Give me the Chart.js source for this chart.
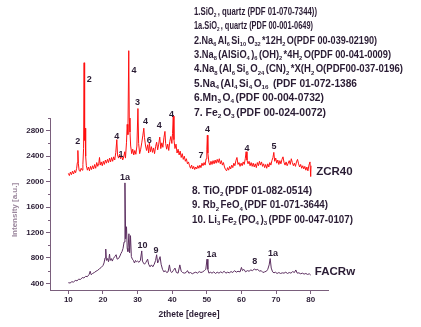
<!DOCTYPE html>
<html>
<head>
<meta charset="utf-8">
<script src="https://cdn.jsdelivr.net/npm/chart.js@4.4.0/dist/chart.umd.min.js"></script>
<style>
html, body { margin: 0; padding: 0; background: #fff; }
</style>
</head>
<body>
<canvas id="xrd-chart" width="421" height="327"></canvas>
<script>
// ZCR40 pattern (red)
var redTheta = [
    10.0, 10.3, 10.6, 10.9, 11.2, 11.5, 11.8, 12.1, 12.4, 12.6,
    12.75, 12.9, 13.1, 13.4, 13.7, 14.0, 14.2, 14.4, 14.55, 14.7,
    14.85, 15.0, 15.2, 15.5, 15.8, 16.1, 16.4, 16.7, 17.0, 17.3,
    17.6, 17.9, 18.2, 18.5, 18.8, 19.0, 19.2, 19.5, 19.8, 20.1,
    20.4, 20.7, 21.0, 21.3, 21.6, 21.9, 22.2, 22.5, 22.8, 23.1,
    23.4, 23.7, 24.0, 24.2, 24.5, 24.8, 25.1, 25.4, 25.7, 26.0,
    26.3, 26.5, 26.8, 27.0, 27.2, 27.45, 27.6, 27.8, 28.0, 28.3,
    28.6, 28.9, 29.2, 29.5, 29.8, 30.1, 30.3, 30.6, 30.9, 31.2,
    31.5, 31.8, 32.0, 32.3, 32.6, 32.9, 33.2, 33.4, 33.7, 34.0,
    34.3, 34.6, 34.9, 35.2, 35.5, 35.8, 36.1, 36.4, 36.7, 37.0,
    37.3, 37.6, 37.9, 38.1, 38.4, 38.7, 39.0, 39.3, 39.6, 39.9,
    40.1, 40.3, 40.5, 40.8, 41.1, 41.4, 41.7, 42.0, 42.3, 42.6,
    42.9, 43.2, 43.5, 43.8, 44.1, 44.4, 44.7, 45.0, 45.3, 45.6,
    45.9, 46.2, 46.5, 46.8, 47.1, 47.4, 47.7, 48.0, 48.3, 48.6,
    48.9, 49.2, 49.5, 49.8, 50.0, 50.15, 50.3, 50.6, 50.9, 51.2,
    51.5, 51.8, 52.1, 52.4, 52.7, 53.0, 53.3, 53.6, 53.9, 54.2,
    54.5, 54.8, 55.1, 55.4, 55.7, 56.0, 56.3, 56.6, 56.9, 57.2,
    57.5, 57.8, 58.1, 58.4, 58.7, 59.0, 59.3, 59.6, 59.9, 60.2,
    60.5, 60.8, 61.1, 61.35, 61.6, 61.9, 62.2, 62.5, 62.8, 63.1,
    63.4, 63.7, 64.0, 64.3, 64.6, 64.9, 65.2, 65.5, 65.8, 66.1,
    66.4, 66.7, 67.0, 67.3, 67.6, 67.9, 68.2, 68.5, 68.8, 69.1,
    69.35, 69.6, 69.9, 70.2, 70.5, 70.8, 71.1, 71.4, 71.7, 72.0,
    72.3, 72.6, 72.9, 73.2, 73.5, 73.8, 74.1, 74.4, 74.7, 75.0,
    75.3, 75.6, 75.9, 76.2, 76.5, 76.8, 77.1, 77.4, 77.7, 78.0,
    78.3, 78.6, 78.9, 79.2, 79.5, 79.8, 80.0, 80.1
];
var redCounts = [
    2130, 2095, 2150, 2110, 2165, 2120, 2175, 2140, 2210, 2300,
    2490, 2280, 2180, 2160, 2210, 2180, 2270, 2520, 3870, 2650,
    2840, 2400, 2250, 2180, 2230, 2170, 2240, 2190, 2250, 2200,
    2270, 2210, 2300, 2240, 2290, 2380, 2260, 2310, 2250, 2320,
    2270, 2340, 2290, 2350, 2300, 2370, 2310, 2380, 2320, 2390,
    2340, 2460, 2660, 2420, 2370, 2430, 2360, 2410, 2340, 2390,
    2470, 2370, 2620, 2900, 2740, 4060, 3000, 2780, 2560, 2440,
    2510, 2420, 2490, 2430, 2560, 3150, 2600, 2440, 2510, 2610,
    2720, 2840, 2690, 2560, 2490, 2580, 2450, 2610, 2470, 2550,
    2460, 2530, 2440, 2550, 2620, 2500, 2590, 2700, 2520, 2610,
    2540, 2690, 2790, 2600, 2510, 2590, 2490, 2630, 2710, 2600,
    2760, 3030, 2660, 2520, 2590, 2450, 2510, 2420, 2480, 2380,
    2440, 2350, 2400, 2320, 2360, 2280, 2310, 2250, 2210, 2260,
    2200, 2240, 2190, 2230, 2200, 2250, 2210, 2260, 2220, 2290,
    2250, 2300, 2260, 2360, 2500, 2730, 2450, 2300, 2260, 2320,
    2270, 2330, 2280, 2340, 2290, 2350, 2300, 2360, 2280, 2330,
    2260, 2300, 2230, 2190, 2170, 2220, 2180, 2240, 2200, 2260,
    2220, 2290, 2250, 2330, 2380, 2270, 2300, 2240, 2290, 2250,
    2310, 2270, 2360, 2470, 2340, 2280, 2320, 2250, 2300, 2240,
    2290, 2230, 2280, 2220, 2300, 2250, 2320, 2260, 2310, 2240,
    2280, 2220, 2270, 2210, 2280, 2230, 2300, 2260, 2330, 2380,
    2460, 2320, 2370, 2290, 2340, 2270, 2330, 2280, 2350, 2390,
    2300, 2260, 2310, 2250, 2290, 2330, 2270, 2360, 2300, 2250,
    2290, 2240, 2310, 2350, 2280, 2230, 2270, 2210, 2250, 2200,
    2240, 2180, 2230, 2170, 2260, 2310, 2080, 2250
];

// FACRw pattern (purple)
var purpleTheta = [
    10.0, 10.5, 11.0, 11.5, 12.0, 12.5, 13.0, 13.5, 14.0, 14.5,
    15.0, 15.5, 16.0, 16.3, 16.6, 17.0, 17.5, 18.0, 18.5, 19.0,
    19.5, 20.0, 20.3, 20.6, 20.8, 21.0, 21.3, 21.6, 21.9, 22.1,
    22.4, 22.7, 23.0, 23.4, 23.8, 24.1, 24.5, 24.9, 25.2, 25.5,
    25.8, 26.1, 26.35, 26.55, 26.8, 27.0, 27.2, 27.5, 27.7, 27.95,
    28.2, 28.5, 28.8, 29.1, 29.4, 29.7, 30.0, 30.4, 30.8, 31.2,
    31.4, 31.7, 32.0, 32.4, 32.9, 33.2, 33.6, 34.0, 34.4, 34.8,
    35.2, 35.5, 35.8, 36.1, 36.5, 36.8, 37.2, 37.6, 38.0, 38.4,
    38.8, 39.2, 39.5, 39.9, 40.3, 40.8, 41.2, 41.7, 42.2, 42.6,
    43.0, 43.5, 44.0, 44.4, 44.8, 45.3, 45.8, 46.3, 46.8, 47.3,
    47.8, 48.3, 48.8, 49.3, 49.7, 50.05, 50.3, 50.6, 51.0, 51.5,
    52.0, 52.5, 53.0, 53.5, 54.0, 54.5, 55.0, 55.5, 56.0, 56.5,
    57.0, 57.5, 58.0, 58.5, 59.0, 59.6, 60.0, 60.3, 60.7, 61.2,
    61.7, 62.2, 62.7, 63.2, 63.7, 64.2, 64.7, 65.2, 65.7, 66.2,
    66.7, 67.2, 67.6, 68.0, 68.3, 68.6, 69.0, 69.4, 69.8, 70.3,
    70.8, 71.3, 71.8, 72.3, 72.8, 73.3, 73.8, 74.3, 74.8, 75.3,
    75.7, 76.1, 76.6, 77.1, 77.6, 78.1, 78.6, 79.1, 79.6, 80.0
];
var purpleCounts = [
    410, 405, 425, 420, 445, 440, 465, 460, 490, 485,
    510, 505, 540, 590, 535, 555, 570, 590, 605, 630,
    650, 680, 720, 800, 940, 760, 790, 740, 860, 760,
    790, 750, 790, 820, 850, 780, 790, 830, 870, 900,
    950, 1050, 1980, 1100, 1290, 950, 900, 1180, 880, 1150,
    820, 780, 760, 720, 760, 740, 750, 730, 760, 910,
    750, 720, 700, 730, 780, 700, 660, 690, 660, 700,
    760, 850, 720, 760, 820, 700, 620, 580, 600, 570,
    580, 690, 590, 570, 600, 640, 570, 560, 690, 590,
    570, 560, 570, 600, 560, 570, 550, 565, 575, 560,
    585, 570, 580, 600, 620, 780, 620, 560, 575, 560,
    580, 555, 575, 560, 580, 565, 590, 560, 575, 565,
    585, 570, 600, 575, 590, 580, 650, 600, 620, 580,
    600, 590, 610, 600, 625, 610, 620, 590, 600, 570,
    580, 590, 620, 690, 790, 640, 580, 565, 575, 555,
    570, 555, 565, 560, 575, 555, 570, 560, 585, 570,
    610, 560, 565, 550, 560, 545, 555, 540, 550, 530
];

var xTicks = [10, 20, 30, 40, 50, 60, 70, 80];
var yTicks = [400, 800, 1200, 1600, 2000, 2400, 2800];
var yMinorTicks = [600, 1000, 1400, 1800, 2200, 2600, 3000];
var yAxisTop = 3000;

// peak labels: [2theta, intensity, text]
var peakLabels = [
    [12.7, 2626, '2'], [16.05, 3612, '2'], [29.0, 3743, '4'], [23.95, 2705, '4'],
    [25.2, 2433, '1'], [30.0, 3240, '3'], [32.3, 2941, '4'], [33.35, 2653, '6'],
    [36.25, 2889, '4'], [39.8, 3062, '4'], [48.3, 2417, '7'], [50.2, 2821, '4'],
    [61.6, 2523, '4'], [69.4, 2559, '5'],
    [26.35, 2067, '1a'], [31.45, 1002, '10'], [35.3, 924, '9'], [51.35, 856, '1a'],
    [63.85, 740, '8'], [69.1, 872, '1a']
];

var phasesTop = [
    '1.SiO_{2}, quartz (PDF 01-070-7344))',
    '1a.SiO_{2}, quartz (PDF 00-001-0649)',
    '2.Na_{6}Al_{6}Si_{10}O_{32}*12H_{2}O(PDF 00-039-02190)',
    '3.Na_{8}(AlSiO_{4})_{6}(OH)_{2}*4H_{2}O(PDF 00-041-0009)',
    '4.Na_{8}(Al_{6}Si_{6}O_{24}(CN)_{2}*X(H_{2}O(PDF00-037-0196)',
    '5.Na_{4}(Al_{4}Si_{4}O_{16} (PDF 01-072-1386',
    '6.Mn_{3}O_{4}(PDF 00-004-0732)',
    '7. Fe_{2}O_{3}(PDF 00-024-0072)'
];
var phasesBottom = [
    '8. TiO_{2}(PDF 01-082-0514)',
    '9. Rb_{2}FeO_{4}(PDF 01-071-3644)',
    '10. Li_{3}Fe_{2}(PO_{4})_{3}(PDF 00-047-0107)'
];
// right edge of each printed line in the picture
var phasesTopEnd = [317, 313, 377, 391, 403, 357, 324, 326];
var phasesBottomEnd = [312, 328, 353];

var axisColor = '#7a5f7c';
var textColor = '#2a1c34';
var sansFont = '"Liberation Sans", Arial, sans-serif';

function toPoints(xs, ys) {
    return xs.map(function (x, i) { return { x: x, y: ys[i] }; });
}

// text with _{..} subscripts, squeezed so it ends at xEnd
function drawRich(ctx, str, x, y, size, weight, xEnd) {
    var parts = str.split(/(_\{[^}]*\})/).filter(function (p) { return p; });
    var pieces = parts.map(function (p) {
        var sub = p.indexOf('_{') === 0;
        return { t: sub ? p.slice(2, -1) : p, sub: sub };
    });
    var fontFor = function (pc) {
        return weight + ' ' + (pc.sub ? size * 0.62 : size) + 'px ' + sansFont;
    };
    var total = 0;
    pieces.forEach(function (pc) {
        ctx.font = fontFor(pc);
        total += ctx.measureText(pc.t).width + (pc.sub ? 1.5 : 0);
    });
    var k = (xEnd - x) / total;
    var cx = 0;
    ctx.save();
    ctx.translate(x, y);
    ctx.scale(k, 1);
    pieces.forEach(function (pc) {
        ctx.font = fontFor(pc);
        ctx.fillText(pc.t, cx, pc.sub ? size * 0.32 : 0);
        cx += ctx.measureText(pc.t).width + (pc.sub ? 1.5 : 0);
    });
    ctx.restore();
}

var annotations = {
    id: 'annotations',
    afterDraw: function (chart) {
        var ctx = chart.ctx;
        var xs = chart.scales.x, ys = chart.scales.y;
        var left = chart.chartArea.left, bottom = chart.chartArea.bottom;
        ctx.save();

        // y axis line only up to 3000
        ctx.strokeStyle = axisColor;
        ctx.lineWidth = 1;
        ctx.beginPath();
        ctx.moveTo(left + 0.5, ys.getPixelForValue(yAxisTop));
        ctx.lineTo(left + 0.5, bottom);
        ctx.stroke();
        yMinorTicks.forEach(function (v) {
            var py = Math.round(ys.getPixelForValue(v)) + 0.5;
            ctx.beginPath();
            ctx.moveTo(left - 2, py);
            ctx.lineTo(left, py);
            ctx.stroke();
        });

        // y title
        ctx.fillStyle = '#9a869c';
        ctx.font = 'bold 8px ' + sansFont;
        ctx.textAlign = 'center';
        ctx.textBaseline = 'middle';
        ctx.save();
        ctx.translate(15, 210);
        ctx.rotate(-Math.PI / 2);
        ctx.fillText('Intensity [a.u.]', 0, 0);
        ctx.restore();

        // peak labels
        ctx.fillStyle = textColor;
        ctx.font = 'bold 9px ' + sansFont;
        peakLabels.forEach(function (p) {
            ctx.fillText(p[2], xs.getPixelForValue(p[0]), ys.getPixelForValue(p[1]));
        });

        // series names
        ctx.textAlign = 'left';
        ctx.font = 'bold 11.5px ' + sansFont;
        ctx.fillText('ZCR40', xs.getPixelForValue(81.6), ys.getPixelForValue(2155));
        ctx.fillText('FACRw', xs.getPixelForValue(81.2), ys.getPixelForValue(575));

        // phase lists
        phasesTop.forEach(function (s, i) {
            drawRich(ctx, s, 194, 12 + i * 14.4, 10, 'bold', phasesTopEnd[i]);
        });
        phasesBottom.forEach(function (s, i) {
            drawRich(ctx, s, 192, 191.5 + i * 14.2, 10, 'bold', phasesBottomEnd[i]);
        });
        ctx.restore();
    }
};

var ctx = document.getElementById('xrd-chart').getContext('2d');
var xrdChart = new Chart(ctx, {
    type: 'line',
    data: {
        datasets: [{
            label: 'ZCR40',
            data: toPoints(redTheta, redCounts),
            borderColor: '#ff1010',
            borderWidth: 1,
            pointRadius: 0,
            tension: 0
        }, {
            label: 'FACRw',
            data: toPoints(purpleTheta, purpleCounts),
            borderColor: '#5c2f60',
            borderWidth: 1,
            pointRadius: 0,
            tension: 0
        }]
    },
    options: {
        responsive: false,
        animation: false,
        devicePixelRatio: 1,
        layout: { padding: { top: 10, right: 93, left: 0, bottom: 0 } },
        plugins: {
            legend: { display: false },
            tooltip: { enabled: false }
        },
        scales: {
            x: {
                type: 'linear',
                min: 4.7,
                max: 85,
                afterBuildTicks: function (s) { s.ticks = xTicks.map(function (v) { return { value: v }; }); },
                afterFit: function (s) { s.height = 37; },
                ticks: { color: textColor, font: { family: sansFont, size: 8, weight: 'bold' }, padding: 1, maxRotation: 0, callback: function (v) { return String(v); } },
                grid: { drawOnChartArea: false, drawTicks: true, tickLength: 4, color: axisColor },
                border: { color: axisColor, width: 1 },
                title: {
                    display: true,
                    text: '2thete [degree]',
                    color: textColor,
                    font: { family: sansFont, size: 8.5, weight: 'bold' },
                    padding: { top: 0, bottom: 7 }
                }
            },
            y: {
                min: 295,
                max: 4700,
                afterBuildTicks: function (s) { s.ticks = yTicks.map(function (v) { return { value: v }; }); },
                afterFit: function (s) { s.width = 50; },
                ticks: { color: textColor, font: { family: sansFont, size: 8, weight: 'bold' }, padding: 2, callback: function (v) { return String(v); } },
                grid: { drawOnChartArea: false, drawTicks: true, tickLength: 4, color: axisColor },
                border: { display: false }
            }
        }
    },
    plugins: [annotations]
});
</script>
</body>
</html>
